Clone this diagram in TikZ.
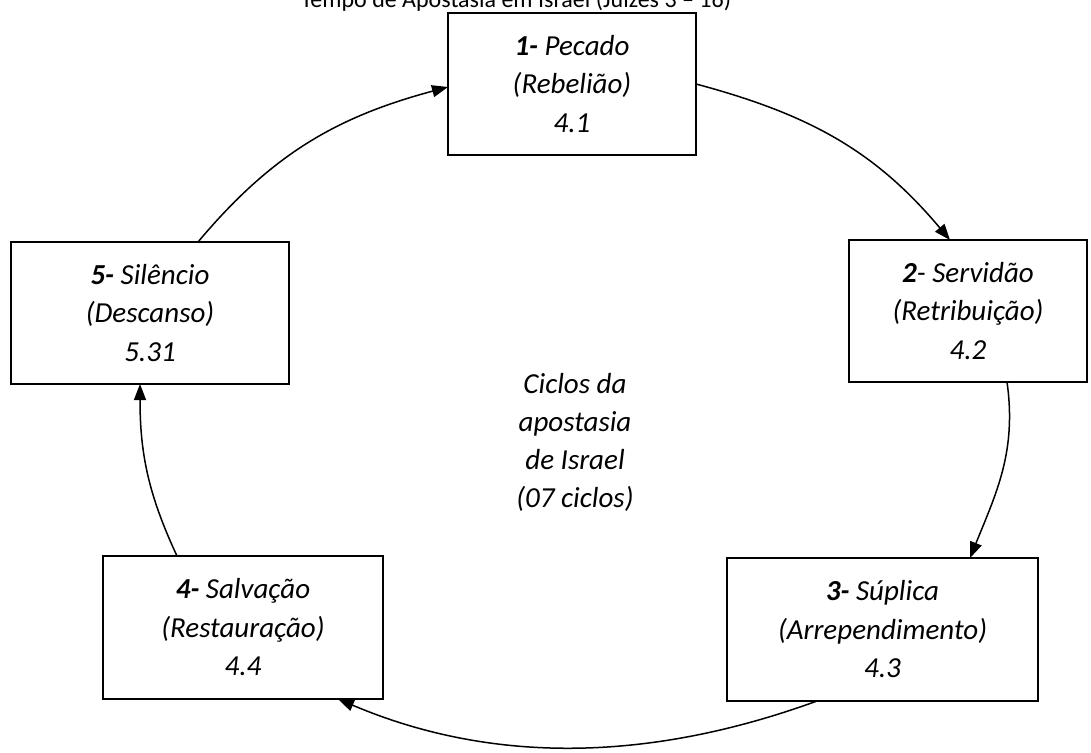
\documentclass[tikz,border=0pt]{standalone}
\usepackage{fontspec}
\setmainfont{Carlito}
\usetikzlibrary{arrows.meta}
\begin{document}
\begin{tikzpicture}[x=1pt,y=1pt,
  box/.style={draw, line width=1.8pt, inner sep=0pt, outer sep=0pt, align=center,
    font=\itshape\fontsize{29}{38.5}\selectfont},
  lbl/.style={align=center, font=\itshape\fontsize{29}{38}\selectfont},
  arr/.style={line width=1.5pt, -{Triangle[length=16pt,width=12pt]}}]
\useasboundingbox (0,0) rectangle (1091,-752);
\clip (0,0) rectangle (1091,-752);
\fill[white] (0,0) rectangle (1091,-752);
\node[anchor=base, font=\fontsize{24}{28}\selectfont] (title) at (516,-8) {Tempo de Apostasia em Israel (Juízes 3 – 16)};
\node[box, minimum width=248pt, minimum height=142pt] (p1) at (572,-84) {\textbf{1-} Pecado\\(Rebelião)\\4.1};
\node[box, minimum width=238pt, minimum height=142pt] (p2) at (968,-311) {\textbf{2}- Servidão\\(Retribuição)\\4.2};
\node[box, minimum width=311pt, minimum height=143pt] (p3) at (882.5,-629.5) {\textbf{3-} Súplica\\(Arrependimento)\\4.3};
\node[box, minimum width=280pt, minimum height=143pt] (p4) at (243,-627.5) {\textbf{4-} Salvação\\(Restauração)\\4.4};
\node[box, minimum width=278pt, minimum height=142pt] (p5) at (150,-313) {\textbf{5-} Silêncio\\(Descanso)\\5.31};
\node[lbl] (center) at (575,-442) {Ciclos da\\apostasia\\de Israel\\(07 ciclos)};
\draw[arr] (p1.east) to[out=-15,in=130] ([xshift=-18pt]p2.north);
\draw[arr] ([xshift=39pt]p2.south) to[out=-82,in=68] ([xshift=87.5pt]p3.north);
\draw[arr] ([xshift=-65.5pt]p3.south) to[out=-160,in=-23,looseness=0.92] ([xshift=95pt]p4.south);
\draw[arr] ([xshift=-66pt]p4.north) to[out=115,in=-90] ([xshift=-10pt]p5.south);
\draw[arr] ([xshift=48pt]p5.north) to[out=50,in=-165] ([yshift=-3pt]p1.west);
\end{tikzpicture}
\end{document}
